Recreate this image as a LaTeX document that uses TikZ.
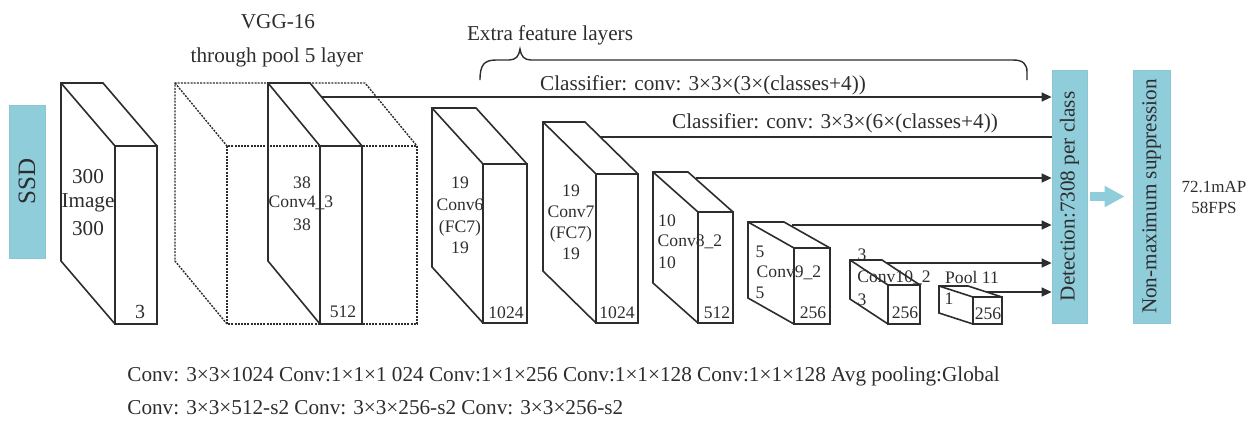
\documentclass[tikz,border=0pt]{standalone}
\usepackage{fontspec}
\setmainfont{Liberation Serif}
\usepackage{graphicx}
\usetikzlibrary{arrows.meta}
\definecolor{ssdblue}{RGB}{143,205,219}
\definecolor{ink}{RGB}{45,45,45}
\tikzset{
 cub/.style={draw=ink, line width=0.8pt, line join=miter},
 dcub/.style={draw=ink, line width=0.7pt, dash pattern=on 1pt off 0.6pt},
 conn/.style={draw=ink, line width=0.7pt},
 arr/.style={conn, -{Triangle[length=5pt,width=4.5pt]}},
 lbl/.style={inner sep=0pt, text=ink, font=\fontsize{8.8}{10}\selectfont},
 big/.style={inner sep=0pt, text=ink, font=\fontsize{10.6}{12}\selectfont},
 bluebox/.style={fill=ssdblue, draw=ssdblue!90!gray, line width=0.4pt, inner sep=0pt},
 bigarrow/.style={draw=ssdblue, line width=4.5pt, -{Triangle[length=10pt,width=10pt]}},
}
% #1 style, #2 x1, #3 y1 (top), #4 x2, #5 y2 (bottom), #6 dx, #7 dy
\newcommand\cubo[7]{%
 \draw[#1] (#2,#3) rectangle (#4,#5);
 \draw[#1] (#2,#5) -- ({#2+#6},{#5+#7}) -- ({#2+#6},{#3+#7}) -- ({#4+#6},{#3+#7}) -- (#4,#3);
 \draw[#1] ({#2+#6},{#3+#7}) -- (#2,#3);
}
\begin{document}
\begin{tikzpicture}[x=0.5pt,y=-0.5pt]
\useasboundingbox (0,0) rectangle (1256,420);

% left SSD label
\node[bluebox, minimum width=18pt, minimum height=76.5pt] (ssd) at (27,181.5)
  {\rotatebox{90}{\fontsize{12.5}{14}\selectfont\color{ink}SSD}};

% cuboids
\cubo{cub}{115}{146}{157}{324}{-54}{-63}
\cubo{dcub}{227}{146}{417}{324}{-52}{-63}
\cubo{cub}{320}{146}{362}{324}{-52}{-63}
\cubo{cub}{483}{164}{527}{323}{-51}{-56}
\cubo{cub}{596}{174}{638}{323}{-53}{-52}
\cubo{cub}{698}{212}{733}{323}{-45}{-40}
\cubo{cub}{794}{248}{830}{324}{-46}{-26}
\cubo{cub}{888}{285}{920}{324}{-38}{-25}
\cubo{cub}{973}{297}{1002}{324}{-34}{-11}

% titles
\node[big] (vgg) at (278,22) {VGG-16};
\node[big] (pool5) at (277,57) {through pool 5 layer};
\node[big] (extra) at (550,35) {Extra feature layers};
\draw[conn] (480,80) .. controls (480,65) and (484,60) .. (496,60) -- (509,60)
  .. controls (516,60) and (519,56) .. (520,49)
  .. controls (521,56) and (524,60) .. (531,60) -- (1013,60)
  .. controls (1023,60) and (1027,64) .. (1027,72) -- (1027,80);

% cuboid labels
\node[big] (i1) at (88,177) {300};
\node[big] (i2) at (88,203) {Image};
\node[big] (i3) at (88,229) {300};
\node[lbl, font=\fontsize{10}{12}\selectfont] (i4) at (140,312) {3};

\node[lbl] (c41) at (302,183) {38};
\node[lbl] (c42) at (301,203) {Conv4\_3};
\node[lbl] (c43) at (302,225) {38};
\node[lbl] (c44) at (343,312) {512};

\node[lbl] (c61) at (460,183) {19};
\node[lbl] (c62) at (460,205) {Conv6};
\node[lbl] (c63) at (460,228) {(FC7)};
\node[lbl] (c64) at (460,248) {19};
\node[lbl] (c65) at (506,313) {1024};

\node[lbl] (c71) at (571,191) {19};
\node[lbl] (c72) at (571,212) {Conv7};
\node[lbl] (c73) at (571,234) {(FC7)};
\node[lbl] (c74) at (571,254) {19};
\node[lbl] (c75) at (617,313) {1024};

\node[lbl] (c81) at (667,221) {10};
\node[lbl] (c82) at (690,242) {Conv8\_2};
\node[lbl] (c83) at (667,263) {10};
\node[lbl] (c84) at (717,313) {512};

\node[lbl] (c91) at (760,252) {5};
\node[lbl] (c92) at (789,273) {Conv9\_2};
\node[lbl] (c93) at (760,293) {5};
\node[lbl] (c94) at (813,313) {256};

\node[lbl] (c101) at (862,255) {3};
\node[lbl] (c102) at (894,278) {Conv10\_2};
\node[lbl] (c103) at (862,300) {3};
\node[lbl] (c104) at (905,313) {256};

\node[lbl] (p1) at (972,277) {Pool 11};
\node[lbl] (p2) at (949,299) {1};
\node[lbl] (p3) at (988,314) {256};

% detection and NMS boxes
\node[bluebox, minimum width=17.5pt, minimum height=126.5pt] (det) at (1069.5,196.5)
  {\rotatebox{90}{\fontsize{10.6}{12}\selectfont\color{ink}Detection:7308 per class}};
\node[bluebox, minimum width=18.5pt, minimum height=126.5pt] (nms) at (1151.5,196.5)
  {\rotatebox{90}{\fontsize{10.6}{12}\selectfont\color{ink}Non-maximum suppression}};
\draw[bigarrow] ([xshift=1.5pt]det.east) -- ([xshift=-4pt]nms.west);
\node[inner sep=0pt, text=ink, align=center, font=\fontsize{8.5}{10.5}\selectfont] (perf) at (1214,197.5) {72.1mAP\\58FPS};

% connectors
\coordinate (s1) at (322,97);
\coordinate (s2) at (600,137);
\coordinate (s3) at (696,178);
\coordinate (s4) at (792,225);
\coordinate (s5) at (887,263);
\coordinate (s6) at (986,292);
\draw[arr] (s1) -- (s1 -| det.west);
\draw[conn] (s2) -- (s2 -| det.west);
\draw[arr] (s3) -- (s3 -| det.west);
\draw[arr] (s4) -- (s4 -| det.west);
\draw[arr] (s5) -- (s5 -| det.west);
\draw[arr] (s6) -- (s6 -| det.west);
\node[big] (cls1) at (703,85) {Classifier: conv: 3×3×(3×(classes+4))};
\node[big] (cls2) at (835,123) {Classifier: conv: 3×3×(6×(classes+4))};

% bottom text
\node[big, anchor=west] (b1) at (127,376) {Conv: 3×3×1024 Conv:1×1×1 024 Conv:1×1×256 Conv:1×1×128 Conv:1×1×128 Avg pooling:Global};
\node[big, anchor=west] (b2) at (127,408) {Conv: 3×3×512-s2 Conv: 3×3×256-s2 Conv: 3×3×256-s2};
\end{tikzpicture}
\end{document}
